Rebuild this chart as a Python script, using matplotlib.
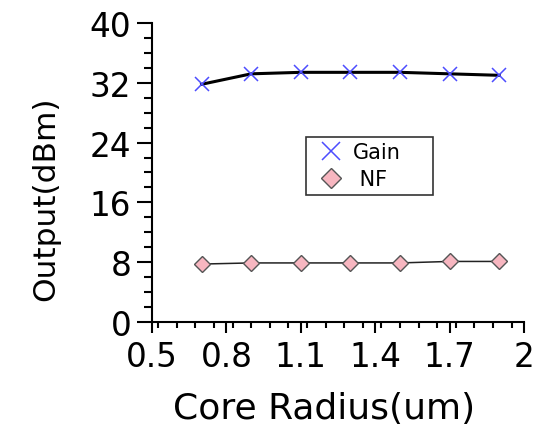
import matplotlib.pyplot as plt
from matplotlib.ticker import MultipleLocator
from matplotlib.lines import Line2D

plt.rcParams['font.family'] = ['DejaVu Sans']

radius = [0.7, 0.9, 1.1, 1.3, 1.5, 1.7, 1.9]
gain = [31.8, 33.2, 33.4, 33.4, 33.4, 33.2, 33.0]
nf = [7.75, 7.9, 7.9, 7.9, 7.9, 8.1, 8.1]

fig = plt.figure(figsize=(5.38, 4.27), dpi=100)
ax = fig.add_axes([0.2825, 0.2436, 0.6915, 0.7002])

blue = '#4d4dff'
ax.plot(radius, gain, color='black', lw=2.2, zorder=2)
ax.plot(radius, gain, ls='none', marker='x', ms=10, mew=1.1, color=blue, zorder=3)
ax.plot(radius, nf, color='#222222', lw=1.1, zorder=2)
ax.plot(radius, nf, ls='none', marker='D', ms=8, mfc='#f7b6c0', mec='#555555', mew=1, zorder=3)

ax.set_xlim(0.5, 2)
ax.set_ylim(0, 40)
ax.xaxis.set_minor_locator(MultipleLocator(0.075))
ax.yaxis.set_major_locator(MultipleLocator(8))
ax.yaxis.set_minor_locator(MultipleLocator(2))
ax.set_xticks([0.5, 0.8, 1.1, 1.4, 1.7, 2.0])
ax.set_xticklabels(['0.5', '0.8', '1.1', '1.4', '1.7', '2'])

for s in ['top', 'right']:
    ax.spines[s].set_visible(False)
ax.spines['left'].set_linewidth(1.5)
ax.spines['bottom'].set_linewidth(1.5)
ax.tick_params(axis='y', which='major', length=11, width=1.5, labelsize=23.5, pad=4)
ax.tick_params(axis='y', which='minor', length=6, width=1.5)
ax.tick_params(axis='x', which='major', length=8, width=1.5, labelsize=23.5, pad=5)
ax.tick_params(axis='x', which='minor', length=4, width=1.5)

ax.set_xlabel('Core Radius(um)', fontsize=26)
ax.xaxis.set_label_coords(0.462, -0.232)
ax.set_ylabel('Output(dBm)', fontsize=22.5)
ax.yaxis.set_label_coords(-0.247, 0.415)

handles = [
    Line2D([], [], ls='none', marker='x', ms=13, mew=1.1, color=blue),
    Line2D([], [], ls='none', marker='D', ms=10, mfc='#f7b6c0', mec='#555555'),
]
leg = ax.legend(handles, ['Gain', ' NF'], loc='upper left',
                bbox_to_anchor=(0.414, 0.428, 0.341, 0.191), mode='expand',
                fontsize=15, frameon=True, fancybox=False, edgecolor='black',
                borderaxespad=0, handlelength=1.9, handletextpad=0.1,
                borderpad=0.25, labelspacing=0.35)
leg.get_frame().set_linewidth(1.2)

fig.savefig('out.png', dpi=100)
